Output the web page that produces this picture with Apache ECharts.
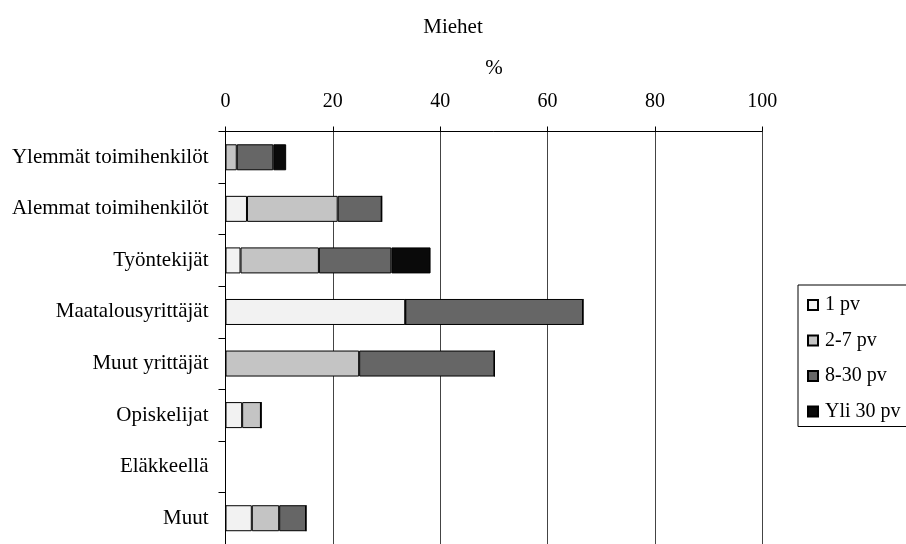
<!DOCTYPE html>
<html>
<head>
<meta charset="utf-8">
<script src="https://cdn.jsdelivr.net/npm/echarts@6/dist/echarts.min.js"></script>
<style>
html,body{margin:0;padding:0;background:#fff;}
#c{width:906px;height:544px;}
</style>
</head>
<body>
<div id="c"></div>
<script>
const categories = ['Ylemmät toimihenkilöt','Alemmat toimihenkilöt','Työntekijät','Maatalousyrittäjät','Muut yrittäjät','Opiskelijat','Eläkkeellä','Muut'];
const seriesNames = ['1 pv','2-7 pv','8-30 pv','Yli 30 pv'];
const v1pv    = [0,   4.0, 2.8, 33.5, 0,    3.1, 0, 4.9];
const v2to7   = [2.1, 16.9,14.6, 0,   24.9, 3.5, 0, 5.1];
const v8to30  = [6.8, 8.2, 13.5, 33.1, 25.2, 0,  0, 5.0];
const vYli30  = [2.4, 0,   7.3, 0,    0,    0,   0, 0];
const xTicks  = [0, 20, 40, 60, 80, 100];

const FONT = '"Liberation Serif","Times New Roman",serif';
const colors = ['#f2f2f2','#c4c4c4','#666666','#0a0a0a'];
const values = [v1pv, v2to7, v8to30, vYli30];

const chart = echarts.init(document.getElementById('c'), null, {renderer:'canvas'});
chart.setOption({
  animation:false,
  backgroundColor:'#ffffff',
  title:{text:'Miehet', left:'center', top:12, textStyle:{fontFamily:FONT, fontSize:21, fontWeight:'normal', color:'#000'}},
  grid:{left:225.5, top:131.5, width:536.8, height:418, containLabel:false},
  legend:{
    orient:'vertical', left:798, top:285,
    data:seriesNames, icon:'rect', itemWidth:10, itemHeight:10, itemGap:15.5,
    padding:[10,30,5,9],
    borderColor:'#000', borderWidth:1,
    textStyle:{fontFamily:FONT, fontSize:20, color:'#000', padding:[0,0,0,2]}
  },
  xAxis:{
    type:'value', position:'top', min:xTicks[0], max:xTicks[xTicks.length-1], interval:20,
    name:'%', nameLocation:'middle', nameGap:53,
    nameTextStyle:{fontFamily:FONT, fontSize:21, color:'#000'},
    axisLine:{show:true, lineStyle:{color:'#000', width:1}},
    axisTick:{show:true, length:5, lineStyle:{color:'#000'}},
    axisLabel:{fontFamily:FONT, fontSize:20, color:'#000', margin:20},
    splitLine:{show:true, lineStyle:{color:'#444', width:1}}
  },
  yAxis:{
    type:'category', data:categories, inverse:true,
    axisLine:{show:true, lineStyle:{color:'#000', width:1}},
    axisTick:{show:true, length:7, lineStyle:{color:'#000'}},
    axisLabel:{fontFamily:FONT, fontSize:21, color:'#000', margin:17},
    splitLine:{show:false}
  },
  series: seriesNames.map((n,i)=>({
    name:n, type:'bar', stack:'total', barWidth:26,
    data: values[i],
    itemStyle:{color:colors[i], borderColor:'#000', borderWidth:1}
  }))
});
</script>
</body>
</html>
